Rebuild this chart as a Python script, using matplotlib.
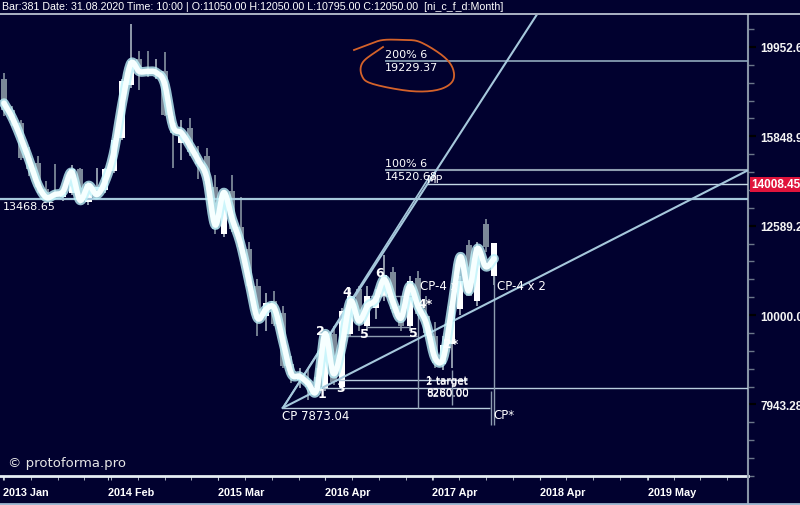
import numpy as np
import matplotlib
matplotlib.use("Agg")
import matplotlib.pyplot as plt
from matplotlib.lines import Line2D

# ---------------- data ----------------
bar_index = list(range(59))
opens = [18390, 16950, 16400, 15000, 14810, 13820, 13680, 13540, 13710, 14550,
         13370, 13790, 13790, 14510, 15780, 18070, 19350, 18870, 18680, 18730,
         16400, 15580, 16190, 15000, 15080, 13890, 12330, 13780, 12550, 11860,
         10770, 9975, 10360, 10050, 8820, 8450, 8470, 8520, 8280, 9530,
         8300, 9530, 10690, 9725, 10180, 10500, 11160, 10230, 9725, 10990,
         9975, 9480, 8820, 9290, 10150, 11980, 10360, 12650, 11050]
highs = [18630, 17130, 16530, 15430, 15080, 14140, 14770, 13890, 14700, 14620,
         14070, 14620, 14620, 15780, 18390, 21160, 19760, 19760, 19350, 19710,
         16700, 16530, 16610, 15470, 15390, 14360, 13780, 14360, 13540, 12080,
         10960, 10580, 10630, 10230, 9010, 8720, 8720, 8720, 9540, 9725,
         10180, 10710, 10770, 10770, 10690, 11680, 11330, 10500, 11050, 11190,
         10500, 9820, 9480, 10500, 11050, 12130, 12080, 12800, 12050]
lows = [16700, 16270, 14890, 14320, 13710, 13440, 13470, 13400, 13610, 13300,
        13270, 13650, 13680, 14430, 15700, 17930, 17840, 18480, 18390, 16700,
        14620, 14920, 15080, 14180, 14070, 12330, 12230, 12390, 11860, 10640,
        9480, 9600, 9725, 8720, 8390, 8280, 8030, 8180, 8220, 8345,
        8240, 9480, 9600, 9600, 9900, 10360, 10050, 9600, 9600, 9975,
        9480, 8730, 8670, 8730, 10000, 10500, 10230, 11770, 10795]
closes = [16950, 16530, 15000, 14550, 13890, 13610, 13610, 13710, 14550, 13440,
          14000, 13890, 14550, 15700, 18250, 19250, 18870, 18680, 18770, 16740,
          15980, 15860, 15200, 14770, 14140, 12490, 13710, 12490, 11920, 10770,
          9900, 10310, 9780, 8780, 8560, 8560, 8300, 8300, 9480, 8410,
          10100, 10500, 9775, 10500, 10500, 11100, 10150, 9725, 10910, 10030,
          9550, 8840, 9260, 10230, 10910, 10500, 11920, 11920, 12050]
smooth_line = [17260, 16610, 15780, 14890, 14000, 13540, 13640, 13750, 14440, 13440,
               13960, 13640, 14140, 15200, 17260, 19110, 18730, 18730, 18680, 18160,
               16270, 15990, 15470, 14890, 14250, 12610, 13710, 12810, 12010, 10910,
               9925, 10150, 10180, 9360, 8600, 8540, 8390, 8240, 9530, 8600,
               9240, 10360, 9850, 10230, 10410, 10960, 10360, 9925, 10770, 10230,
               9775, 8960, 8960, 10180, 11620, 10640, 11860, 11330, 11560]

title_text = ("Bar:381 Date: 31.08.2020 Time: 10:00 | O:11050.00 H:12050.00 "
              "L:10795.00 C:12050.00  [ni_c_f_d:Month]")
x_tick_labels = ["2013 Jan", "2014 Feb", "2015 Mar", "2016 Apr", "2017 Apr", "2018 Apr", "2019 May"]
x_tick_pos = [-0.1, 12.3, 25.3, 38.0, 50.7, 63.4, 76.2]
y_tick_vals = [7943.28, 10000.00, 12589.25, 15848.93, 19952.62]
current_price = 14008.45
support_level = 13468.65
cp_bar, cp_price = 33.0, 7873.04
level_100, level_200 = 14520.68, 19229.37
mp_bar, mp_price = 50.2, 14210
target_1, target_2 = 8280.00, 8450.00

# ---------------- style ----------------
BG = "#01012f"
GRAY = "#7b8898"
LINE = "#a6c8dc"
W, H = 800, 506
fig = plt.figure(figsize=(W / 100, H / 100), dpi=100)
fig.patch.set_facecolor(BG)
ax = fig.add_axes([0, 29 / H, 748 / W, 461 / H])
ax.set_facecolor(BG)
ax.set_yscale("log")
ax.set_ylim(6684, 21659)
ax.set_xlim(-0.47, 88.05)
for s in ["top", "left"]:
    ax.spines[s].set_visible(False)
ax.spines["right"].set_color("#8894a6")
ax.spines["right"].set_linewidth(1.5)
ax.spines["bottom"].set_color("#e6eef4")
ax.spines["bottom"].set_linewidth(2)

# right price axis
ax.yaxis.tick_right()
ax.set_yticks(y_tick_vals)
ax.set_yticklabels([f"{v:.2f}" for v in y_tick_vals])
minor = [10 ** e for e in np.arange(3.82, 4.34, 0.02)]
ax.set_yticks(minor, minor=True)
ax.yaxis.set_minor_formatter(matplotlib.ticker.NullFormatter())
ax.tick_params(axis="y", which="major", length=6, width=1.5, color="#000000",
               labelcolor="#f4f4f4", pad=3, labelsize=8.5)
ax.tick_params(axis="y", which="minor", length=4, width=1, color="#6a7688")
for t in ax.get_yticklabels():
    t.set_fontfamily(["Liberation Sans", "DejaVu Sans"])
    t.set_fontweight("bold")

# x axis
ax.set_xticks(x_tick_pos)
ax.set_xticklabels(x_tick_labels)
ax.set_xticks(np.arange(0, 88, 3.17), minor=True)
ax.tick_params(axis="x", which="major", length=3, color="#c8d0d8", labelcolor="#ffffff",
               pad=5, labelsize=7.8)
ax.tick_params(axis="x", which="minor", length=3, color="#c8d0d8")
for t in ax.get_xticklabels():
    t.set_fontfamily(["Liberation Sans", "DejaVu Sans"])
    t.set_fontweight("bold")
    t.set_horizontalalignment("left")

# ---------------- candles ----------------
x = np.array(bar_index, dtype=float)
o = np.array(opens); h = np.array(highs); l = np.array(lows); c = np.array(closes)
up = c >= o
ax.vlines(x[~up], l[~up], h[~up], color=GRAY, lw=1.3, zorder=2)
ax.vlines(x[up], l[up], h[up], color="#9aa6b4", lw=1.3, zorder=2)
lo_b = np.minimum(o, c); hi_b = np.maximum(o, c)
ax.bar(x[~up], hi_b[~up] - lo_b[~up], bottom=lo_b[~up], width=0.72, color=GRAY, zorder=3)
ax.bar(x[up], hi_b[up] - lo_b[up], bottom=lo_b[up], width=0.72, color="#ffffff", zorder=3)

# ---------------- level lines ----------------
ax.axhline(support_level, color=LINE, lw=1.6, zorder=4)
ax.hlines(level_200, 45.1, 88.1, color="#8fa8bc", lw=1.2, zorder=4)
ax.hlines(level_100, 45.1, 88.1, color="#8d9cb0", lw=1.5, zorder=4)
ax.hlines(current_price, 50.0, 88.1, color="#c4d8e6", lw=1.0, zorder=4)
ax.hlines(target_1, 37.6, 88.1, color="#b8ccdc", lw=1.0, zorder=4)
ax.hlines(target_2, 39.5, 54.8, color="#b8ccdc", lw=1.0, zorder=4)
ax.hlines(cp_price, cp_bar, 57.5, color="#b8ccdc", lw=1.0, zorder=4)
ax.hlines(9700, 43.0, 48.0, color="#8d9cb0", lw=1.0, zorder=4)
ax.hlines(9480, 40.0, 48.9, color="#8d9cb0", lw=1.0, zorder=4)
ax.hlines(10500, 43.3, 48.9, color="#8d9cb0", lw=1.0, zorder=4)
ax.vlines(49.0, cp_price, 10050, color="#8d9cb0", lw=1.0, zorder=4)
ax.vlines(53.0, 7930, 8670, color="#8d9cb0", lw=1.0, zorder=4)
ax.vlines(57.6, 7530, 8230, color="#8d9cb0", lw=1.0, zorder=4)
ax.vlines(58.0, 7530, 11050, color="#8d9cb0", lw=1.0, zorder=4)

# diagonal lines from CP (straight in log space)
def ray(b1, p1, b2, p2, b_end):
    s = (np.log10(p2) - np.log10(p1)) / (b2 - b1)
    bb = np.array([b1, b_end])
    return bb, 10 ** (np.log10(p1) + s * (bb - b1))

bx, by = ray(cp_bar, cp_price, 59.5, level_200, 70)
ax.plot(bx, by, color=LINE, lw=1.5, zorder=4)
bx, by = ray(cp_bar, cp_price, mp_bar, mp_price, mp_bar)
ax.plot(bx, by, color=LINE, lw=1.2, zorder=4)
bx, by = ray(cp_bar, cp_price, 88.05, level_100, 90)
ax.plot(bx, by, color=LINE, lw=1.5, zorder=4)

# ---------------- smoothed line ----------------
def catmull(xs, ys, n=14):
    xs = np.asarray(xs, float); ys = np.log10(np.asarray(ys, float))
    px = np.concatenate([[2 * xs[0] - xs[1]], xs, [2 * xs[-1] - xs[-2]]])
    py = np.concatenate([[2 * ys[0] - ys[1]], ys, [2 * ys[-1] - ys[-2]]])
    ox, oy = [], []
    t = np.linspace(0, 1, n, endpoint=False)
    for i in range(1, len(px) - 2):
        for arr, out in ((px, ox), (py, oy)):
            p0, p1, p2, p3 = arr[i - 1], arr[i], arr[i + 1], arr[i + 2]
            out.extend(0.5 * ((2 * p1) + (-p0 + p2) * t + (2 * p0 - 5 * p1 + 4 * p2 - p3) * t ** 2
                              + (-p0 + 3 * p1 - 3 * p2 + p3) * t ** 3))
    ox.append(xs[-1]); oy.append(ys[-1])
    return np.array(ox), 10 ** np.array(oy)

sx, sy = catmull(bar_index, smooth_line)
ax.plot(sx, sy, color="#bff3fa", lw=7, alpha=0.8, zorder=6, solid_capstyle="round")
ax.plot(sx, sy, color="#f6ffff", lw=4, zorder=7, solid_capstyle="round")

# ---------------- texts ----------------
TF = ["DejaVu Sans"]
def lab(b, p, s, size=8.5, ha="left", va="center", weight="normal"):
    ax.text(b, p, s, color="#ffffff", fontsize=size, ha=ha, va=va, family=TF,
            fontweight=weight, zorder=9)

lab(-0.15, 13230, "13468.65", size=8)
lab(45.1, 19600, "200% 6", size=8)
lab(45.1, 18950, "19229.37", size=8)
lab(45.1, 14800, "100% 6", size=8)
lab(45.1, 14300, "14520.68", size=8)
lab(50.0, 14180, "MP", size=8)
lab(32.9, 7720, "CP 7873.04", size=8.5)
lab(57.9, 7740, "CP*", size=8.5)
lab(49.2, 10780, "CP-4 x", size=8.5)
lab(58.3, 10780, "CP-4 x 2", size=8.5)
lab(50.0, 8470, "1 target", size=7.5)
lab(50.0, 8440, "2 target", size=7.5)
lab(50.0, 8210, "8280.00", size=7.5)
lab(50.0, 8190, "8260.00", size=7.5)
for b, p, s in [(37.6, 8170, "1"), (37.4, 9610, "2"), (39.8, 8290, "3"), (40.6, 10620, "4"),
                (42.6, 9540, "5"), (44.5, 11160, "6"), (48.4, 9560, "5"), (49.8, 10300, "4*"),
                (52.8, 9300, "2*")]:
    lab(b, p, s, size=9, ha="center", weight="bold")

# current price label
ax.text(1.005, current_price, f"{current_price:.2f}", transform=ax.get_yaxis_transform(),
        color="#ffffff", fontsize=8.5, fontweight="bold", family=["Liberation Sans", "DejaVu Sans"],
        va="center", ha="left", zorder=10,
        bbox=dict(boxstyle="square,pad=0.12", fc="#e0143c", ec="none"))

# orange hand-drawn ellipse annotation (figure pixel space)
ell_x = [354, 370, 383, 403, 420, 443, 453, 452, 437, 410, 373, 362, 363, 383]
ell_y = [51, 45, 41, 41, 43, 57, 70, 83, 91, 92, 85, 77, 63, 48]
ex, ey = catmull(ell_x, [10 ** (v / 100) for v in ell_y], n=10)
ey = np.log10(ey) * 100
fig.add_artist(Line2D(ex / W, 1 - ey / H, color="#d4622a", lw=1.3))

# title bar and frame
fig.text(2 / W, 1 - 7.5 / H, title_text, color="#ffffff", fontsize=7.7, va="center", ha="left",
         family=["Liberation Sans", "DejaVu Sans"])
fig.add_artist(Line2D([0, 1], [1 - 15 / H, 1 - 15 / H], color="#c8d0dc", lw=1.2))
fig.add_artist(Line2D([748 / W, 748 / W], [0, 29 / H], color="#8894a6", lw=1.5))
fig.add_artist(Line2D([0, 1], [1.5 / H, 1.5 / H], color="#9fb8d0", lw=2))
fig.text(8 / W, 1 - 463 / H, "\u00a9 protoforma.pro", color="#e6e6e6", fontsize=9.5,
         va="center", ha="left", family=["DejaVu Sans"])

fig.savefig("out.png", dpi=100, facecolor=BG)
